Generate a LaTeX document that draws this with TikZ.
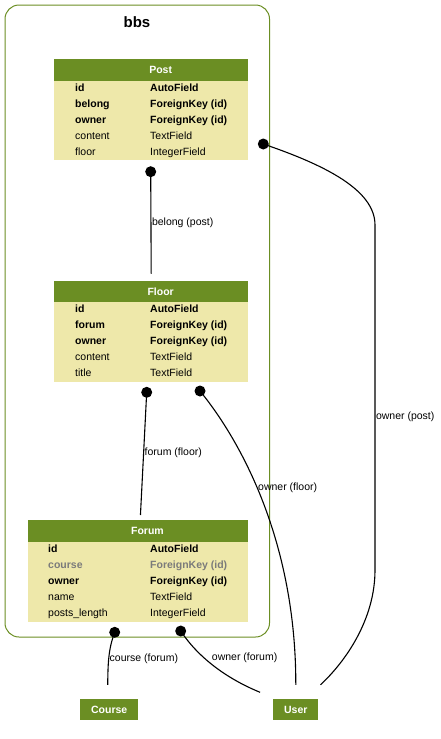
\documentclass[tikz,border=0pt]{standalone}
\usepackage{fontspec}
\setmainfont{Liberation Sans}
\usetikzlibrary{positioning}
\definecolor{olivegreen}{HTML}{6B8E23}
\definecolor{fieldbg}{HTML}{EEE8AA}
\definecolor{nullgray}{HTML}{7B7B7B}
\newcommand{\rowfont}{\fontsize{10.5}{12}\selectfont}

\begin{document}
\begin{tikzpicture}[x=1pt,y=-1pt,
    cluster/.style={draw=olivegreen, line width=1pt, rounded corners=14pt},
    hdr/.style={fill=olivegreen, anchor=north west, inner sep=0pt, minimum height=21.5pt},
    hdrtxt/.style={text=white, font=\rowfont\bfseries, inner sep=0pt},
    tbody/.style={fill=fieldbg, anchor=north west, inner sep=0pt},
    fld/.style={anchor=base west, inner sep=0pt, font=\rowfont},
    keyfld/.style={fld, font=\rowfont\bfseries},
    nullfld/.style={keyfld, text=nullgray},
    plainfld/.style={fld},
    model/.style={fill=olivegreen, text=white, font=\rowfont\bfseries, inner sep=0pt, minimum height=21pt},
    fkdot/.style={circle, fill=black, inner sep=0pt, minimum size=11pt},
    rel/.style={line width=1.1pt},
    lbl/.style={font=\rowfont, inner sep=0.5pt, anchor=west}]
    \useasboundingbox (0,0) rectangle (441,739);
    % app cluster
    \draw[cluster] (5,5) rectangle (269.5,637);
    \node[font=\fontsize{15}{18}\selectfont\bfseries] (bbs) at (137,22.5) {bbs};
    % Post
    \node[hdr, minimum width=194pt, label={[hdrtxt,xshift=9.5pt]center:Post}] (post) at (54,59) {};
    \node[tbody, minimum width=194pt, minimum height=79.5pt] (postbody) at (54,80.5) {};
    \foreach \n/\t/\s [count=\i] in {id/AutoField/keyfld, belong/ForeignKey (id)/keyfld,
        owner/ForeignKey (id)/keyfld, content/TextField/plainfld, floor/IntegerField/plainfld} {
      \node[\s] (post-n\i) at (75,{91.5+16*(\i-1)}) {\n};
      \node[\s] (post-t\i) at (150,{91.5+16*(\i-1)}) {\t};
    }
    % Floor
    \node[hdr, minimum width=194pt, label={[hdrtxt,xshift=9.5pt]center:Floor}] (floor) at (54,280.5) {};
    \node[tbody, minimum width=194pt, minimum height=79.5pt] (floorbody) at (54,302) {};
    \foreach \n/\t/\s [count=\i] in {id/AutoField/keyfld, forum/ForeignKey (id)/keyfld,
        owner/ForeignKey (id)/keyfld, content/TextField/plainfld, title/TextField/plainfld} {
      \node[\s] (floor-n\i) at (75,{312.7+16*(\i-1)}) {\n};
      \node[\s] (floor-t\i) at (150,{312.7+16*(\i-1)}) {\t};
    }
    % Forum
    \node[hdr, minimum width=220.5pt, label={[hdrtxt,xshift=9.5pt]center:Forum}] (forum) at (27.5,520) {};
    \node[tbody, minimum width=220.5pt, minimum height=80pt] (forumbody) at (27.5,541.5) {};
    \foreach \n/\t/\s [count=\i] in {id/AutoField/keyfld, course/ForeignKey (id)/nullfld,
        owner/ForeignKey (id)/keyfld, name/TextField/plainfld, posts\_length/IntegerField/plainfld} {
      \node[\s] (forum-n\i) at (48,{552.5+16*(\i-1)}) {\n};
      \node[\s] (forum-t\i) at (150,{552.5+16*(\i-1)}) {\t};
    }
    % outside models
    \node[model, minimum width=58pt] (course) at (109.2,709.5) {Course};
    \node[model, minimum width=45pt] (user) at (295.8,709.5) {User};
    % foreign key ends
    \node[fkdot] (post-d1) at (150.7,171.7) {};
    \node[fkdot] (post-d2) at (263.3,144) {};
    \node[fkdot] (floor-d1) at (146.7,392.3) {};
    \node[fkdot] (floor-d2) at (200,391) {};
    \node[fkdot] (forum-d1) at (114.7,632.3) {};
    \node[fkdot] (forum-d2) at (180.7,631) {};
    % relations
    \draw[rel] (post-d1.center) -- node[lbl, pos=0.5] {belong (post)} ([yshift=7pt]floor.north);
    \draw[rel] (post-d2.center) .. controls (325,165) and (375,190) .. (375,225)
      -- node[lbl, pos=0.557] {owner (post)} (375,570)
      .. controls (375,620) and (345,662) .. ([xshift=2pt,yshift=14pt]user.north east);
    \draw[rel] (floor-d1.center) -- node[lbl, pos=0.49] {forum (floor)} ([xshift=2.5pt,yshift=5pt]forum.north);
    \draw[rel] (floor-d2.center) .. controls (240,440) and (296,540) ..
      node[lbl, pos=0.45] {owner (floor)} ([yshift=14pt]user.north);
    \draw[rel] (forum-d1.center) .. controls (108,650) and (108,665) ..
      node[lbl, pos=0.52] {course (forum)} ([xshift=-1.5pt,yshift=14pt]course.north);
    \draw[rel] (forum-d2.center) .. controls (200,660) and (230,680) ..
      node[lbl, pos=0.33, xshift=8pt, yshift=-1pt] {owner (forum)} ([xshift=-13pt,yshift=6.5pt]user.north west);
\end{tikzpicture}
\end{document}
